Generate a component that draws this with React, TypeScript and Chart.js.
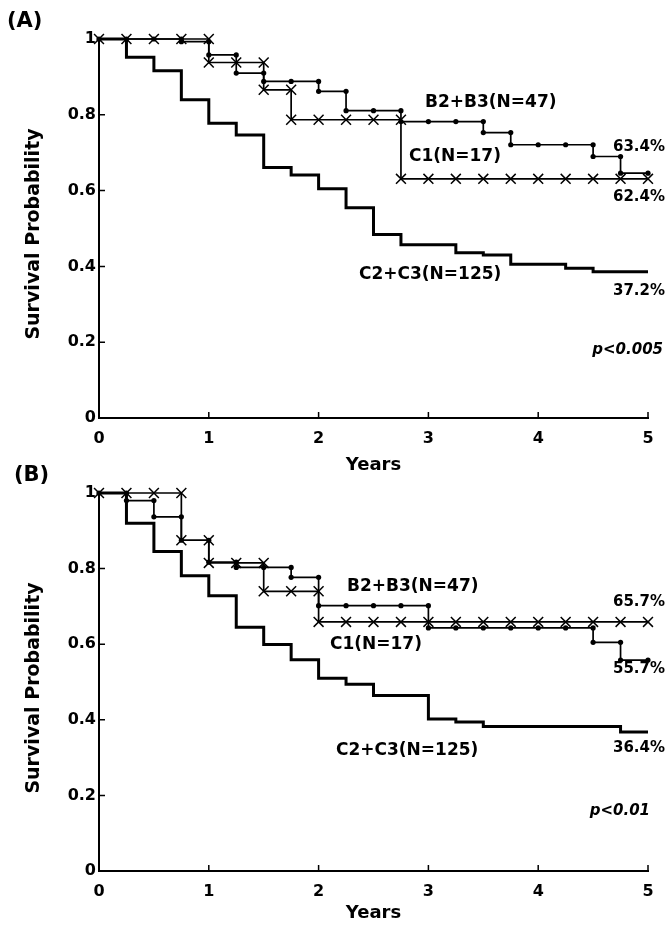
import { useEffect, useRef } from 'react';
import { Chart, registerables } from 'chart.js';

Chart.register(...registerables);

// ---------- data ----------
const years = [0, 0.25, 0.5, 0.75, 1, 1.25, 1.5, 1.75, 2, 2.25, 2.5, 2.75, 3, 3.25, 3.5, 3.75, 4, 4.25, 4.5, 4.75, 5];
const xTickLabels = ['0', '1', '2', '3', '4', '5'];
const yTickLabels = ['0', '0.2', '0.4', '0.6', '0.8', '1'];
const groupNames = ['B2+B3(N=47)', 'C1(N=17)', 'C2+C3(N=125)'];

// Panel A
const aB23 = [1, 1, 1, 0.993, 0.958, 0.91, 0.888, 0.888, 0.862, 0.811, 0.811, 0.782, 0.782, 0.782, 0.753, 0.721, 0.721, 0.721, 0.69, 0.646, 0.646];
const aC1 = [1, 1, 1, 1, 0.938, 0.938, 0.866, 0.787, 0.787, 0.787, 0.787, 0.631, 0.631, 0.631, 0.631, 0.631, 0.631, 0.631, 0.631, 0.631, 0.631];
const aC23 = [1, 0.952, 0.916, 0.84, 0.778, 0.747, 0.661, 0.641, 0.605, 0.555, 0.484, 0.457, 0.457, 0.436, 0.43, 0.406, 0.406, 0.395, 0.386, 0.386, 0.386];
const aEndLabels = ['63.4%', '62.4%', '37.2%'];
const aPValue = 'p<0.005';

// Panel B
const bB23 = [1, 0.98, 0.937, 0.875, 0.817, 0.803, 0.803, 0.777, 0.702, 0.702, 0.702, 0.702, 0.643, 0.643, 0.643, 0.643, 0.643, 0.643, 0.605, 0.558, 0.558];
const bC1 = [1, 1, 1, 0.875, 0.815, 0.815, 0.74, 0.74, 0.659, 0.659, 0.659, 0.659, 0.659, 0.659, 0.659, 0.659, 0.659, 0.659, 0.659, 0.659, 0.659];
const bC23 = [1, 0.92, 0.845, 0.781, 0.728, 0.645, 0.599, 0.559, 0.51, 0.494, 0.464, 0.464, 0.402, 0.394, 0.382, 0.382, 0.382, 0.382, 0.382, 0.368, 0.368];
const bEndLabels = ['65.7%', '55.7%', '36.4%'];
const bPValue = 'p<0.01';

const FONT = "'DejaVu Sans', 'Liberation Sans', sans-serif";

type Txt = { text: string; x: number; y: number; align: CanvasTextAlign; size: number; italic?: boolean };

type PanelSpec = {
  top: number;
  height: number;
  padTop: number;
  xAxisHeight: number;
  b23: number[];
  c1: number[];
  c23: number[];
  texts: Txt[];
  yTitleY: number;
  xTitleY: number;
};

function curve(values: number[]) {
  return values.map((v, i) => ({ x: years[i], y: v }));
}

function markers(values: number[]) {
  const pts: { x: number; y: number }[] = [];
  values.forEach((v, i) => {
    pts.push({ x: years[i], y: v });
    if (i > 0 && values[i - 1] !== v) pts.push({ x: years[i], y: values[i - 1] });
  });
  return pts;
}

const panelA: PanelSpec = {
  top: 0,
  height: 480,
  padTop: 39,
  xAxisHeight: 62,
  b23: aB23,
  c1: aC1,
  c23: aC23,
  yTitleY: 234,
  xTitleY: 465,
  texts: [
    { text: '(A)', x: 7, y: 22, align: 'left', size: 21 },
    { text: groupNames[0], x: 425, y: 103, align: 'left', size: 17 },
    { text: groupNames[1], x: 409, y: 157, align: 'left', size: 17 },
    { text: groupNames[2], x: 359, y: 275, align: 'left', size: 17 },
    { text: aEndLabels[0], x: 665, y: 147, align: 'right', size: 15 },
    { text: aEndLabels[1], x: 665, y: 197, align: 'right', size: 15 },
    { text: aEndLabels[2], x: 665, y: 291, align: 'right', size: 15 },
    { text: aPValue, x: 663, y: 350, align: 'right', size: 15, italic: true },
  ],
};

const B0 = 455;
const panelB: PanelSpec = {
  top: B0,
  height: 473,
  padTop: 493 - B0,
  xAxisHeight: 473 - (871 - B0),
  b23: bB23,
  c1: bC1,
  c23: bC23,
  yTitleY: 688 - B0,
  xTitleY: 913 - B0,
  texts: [
    { text: '(B)', x: 14, y: 476 - B0, align: 'left', size: 21 },
    { text: groupNames[0], x: 347, y: 587 - B0, align: 'left', size: 17 },
    { text: groupNames[1], x: 330, y: 645 - B0, align: 'left', size: 17 },
    { text: groupNames[2], x: 336, y: 751 - B0, align: 'left', size: 17 },
    { text: bEndLabels[0], x: 665, y: 602 - B0, align: 'right', size: 15 },
    { text: bEndLabels[1], x: 665, y: 669 - B0, align: 'right', size: 15 },
    { text: bEndLabels[2], x: 665, y: 748 - B0, align: 'right', size: 15 },
    { text: bPValue, x: 650, y: 811 - B0, align: 'right', size: 15, italic: true },
  ],
};

function Panel({ spec }: { spec: PanelSpec }) {
  const ref = useRef<HTMLCanvasElement | null>(null);

  useEffect(() => {
    if (!ref.current) return;

    const annot = {
      id: 'annot',
      afterDraw(chart: any) {
        const ctx = chart.ctx as CanvasRenderingContext2D;
        const xs = chart.scales.x;
        const ys = chart.scales.y;
        const area = chart.chartArea;
        ctx.save();
        // inward tick marks
        ctx.strokeStyle = '#000';
        ctx.lineWidth = 1.5;
        ctx.beginPath();
        xs.ticks.forEach((t: any) => {
          const px = xs.getPixelForValue(t.value);
          ctx.moveTo(px, area.bottom);
          ctx.lineTo(px, area.bottom - 6);
        });
        ys.ticks.forEach((t: any) => {
          const py = ys.getPixelForValue(t.value);
          ctx.moveTo(area.left, py);
          ctx.lineTo(area.left + 6, py);
        });
        ctx.stroke();

        ctx.fillStyle = '#000';
        ctx.textBaseline = 'middle';
        spec.texts.forEach((t) => {
          ctx.font = `${t.italic ? 'italic ' : ''}bold ${t.size}px ${FONT}`;
          ctx.textAlign = t.align;
          ctx.fillText(t.text, t.x, t.y);
        });

        // axis titles
        ctx.font = `bold 18px ${FONT}`;
        ctx.textAlign = 'center';
        ctx.fillText('Years', (area.left + area.right) / 2, spec.xTitleY);
        ctx.save();
        ctx.translate(34, spec.yTitleY);
        ctx.rotate(-Math.PI / 2);
        ctx.font = `bold 19px ${FONT}`;
        ctx.fillText('Survival Probability', 0, 0);
        ctx.restore();
        ctx.restore();
      },
    };

    const chart = new Chart(ref.current, {
      type: 'line',
      data: {
        datasets: [
          {
            label: groupNames[1] + ' marks',
            data: markers(spec.c1),
            showLine: false,
            clip: false,
            pointStyle: 'crossRot',
            pointRadius: 7,
            pointBorderWidth: 1.5,
            pointBorderColor: '#000',
            pointBackgroundColor: '#000',
          },
          {
            label: groupNames[0] + ' marks',
            data: markers(spec.b23),
            showLine: false,
            clip: false,
            pointStyle: 'circle',
            pointRadius: 2.6,
            pointBorderWidth: 0,
            pointBackgroundColor: '#000',
          },
          {
            label: groupNames[2],
            data: curve(spec.c23),
            stepped: true,
            clip: false,
            borderColor: '#000',
            borderWidth: 3,
            pointRadius: 0,
            fill: false,
          },
          {
            label: groupNames[1],
            data: curve(spec.c1),
            stepped: true,
            clip: false,
            borderColor: '#000',
            borderWidth: 1.7,
            pointRadius: 0,
            fill: false,
          },
          {
            label: groupNames[0],
            data: curve(spec.b23),
            stepped: true,
            clip: false,
            borderColor: '#000',
            borderWidth: 1.7,
            pointRadius: 0,
            fill: false,
          },
        ],
      },
      options: {
        animation: false,
        responsive: false,
        devicePixelRatio: 1,
        events: [],
        layout: { padding: { top: spec.padTop, right: 18, left: 0, bottom: 0 } },
        plugins: { legend: { display: false }, tooltip: { enabled: false } },
        scales: {
          x: {
            type: 'linear',
            min: 0,
            max: 5,
            grid: { display: false, drawTicks: false },
            border: { display: true, color: '#000', width: 2 },
            ticks: {
              stepSize: 1,
              padding: 11,
              color: '#000',
              font: { family: FONT, size: 16, weight: 'bold' },
              callback: (_v: any, i: number) => xTickLabels[i],
            },
            afterFit: (s: any) => {
              s.height = spec.xAxisHeight;
            },
          },
          y: {
            type: 'linear',
            min: 0,
            max: 1,
            grid: { display: false, drawTicks: false },
            border: { display: true, color: '#000', width: 2 },
            ticks: {
              stepSize: 0.2,
              padding: 3,
              color: '#000',
              font: { family: FONT, size: 16, weight: 'bold' },
              callback: (_v: any, i: number) => yTickLabels[i],
            },
            afterFit: (s: any) => {
              s.width = 99;
            },
          },
        },
      },
      plugins: [annot],
    } as any);

    return () => chart.destroy();
  }, [spec]);

  return (
    <canvas
      ref={ref}
      width={666}
      height={spec.height}
      style={{ position: 'absolute', left: 0, top: spec.top, width: 666, height: spec.height }}
    />
  );
}

export default function App() {
  return (
    <div style={{ position: 'absolute', left: 0, top: 0, width: 666, height: 928, background: '#fff', overflow: 'hidden' }}>
      <Panel spec={panelA} />
      <Panel spec={panelB} />
    </div>
  );
}
